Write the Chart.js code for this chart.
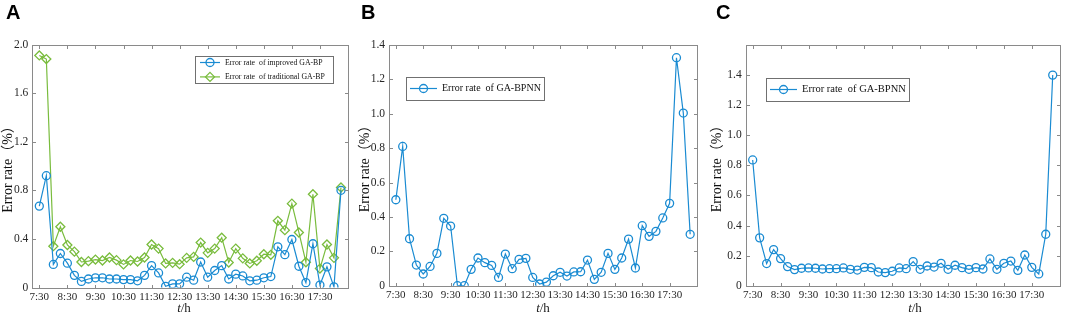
<!DOCTYPE html>
<html>
<head>
<meta charset="utf-8">
<script src="https://cdn.jsdelivr.net/npm/chart.js@4.4.1/dist/chart.umd.min.js"></script>
<style>
  html, body { margin: 0; padding: 0; background: #fff; }
  #wrap { position: relative; width: 1065px; height: 312px; overflow: hidden; }
  .panel { position: absolute; top: 0; }
</style>
</head>
<body>
<div id="wrap">
  <canvas id="chartA" class="panel" style="left:0" width="355" height="312"></canvas>
  <canvas id="chartB" class="panel" style="left:355px" width="353" height="312"></canvas>
  <canvas id="chartC" class="panel" style="left:708px" width="357" height="312"></canvas>
</div>
<script>
// sampling times, every 15 minutes
const times = ['7:30','7:45','8:00','8:15','8:30','8:45','9:00','9:15','9:30','9:45',
  '10:00','10:15','10:30','10:45','11:00','11:15','11:30','11:45','12:00','12:15',
  '12:30','12:45','13:00','13:15','13:30','13:45','14:00','14:15','14:30','14:45',
  '15:00','15:15','15:30','15:45','16:00','16:15','16:30','16:45','17:00','17:15',
  '17:30','17:45','18:00','18:15'];
const xTickLabels = ['7:30','8:30','9:30','10:30','11:30','12:30','13:30','14:30','15:30','16:30','17:30'];

// A: improved vs traditional GA-BP
const improvedA = [0.67,0.92,0.19,0.28,0.20,0.10,0.05,0.07,0.08,0.08,0.07,0.07,0.065,0.065,0.055,
  0.10,0.18,0.12,0.01,0.03,0.03,0.085,0.06,0.21,0.085,0.14,0.18,0.07,0.11,0.095,0.055,0.06,0.08,
  0.09,0.335,0.27,0.395,0.175,0.04,0.36,0.02,0.17,0.005,0.80];
const traditionalA = [1.91,1.88,0.34,0.50,0.35,0.295,0.21,0.217,0.23,0.222,0.247,0.225,0.19,0.222,
  0.214,0.247,0.354,0.32,0.198,0.203,0.192,0.244,0.252,0.37,0.285,0.32,0.41,0.206,0.32,0.24,0.198,
  0.22,0.274,0.269,0.549,0.472,0.69,0.453,0.208,0.768,0.156,0.354,0.244,0.823];
// B and C: GA-BPNN
const errB = [0.50,0.81,0.273,0.12,0.068,0.112,0.188,0.392,0.347,0,0,0.095,0.161,0.134,0.118,0.048,
  0.184,0.099,0.153,0.159,0.048,0.01,0.021,0.058,0.078,0.056,0.08,0.081,0.149,0.037,0.078,0.188,
  0.095,0.161,0.271,0.103,0.349,0.287,0.316,0.394,0.479,1.326,1.004,0.299];
const errC = [0.836,0.318,0.147,0.24,0.18,0.127,0.107,0.116,0.118,0.116,0.111,0.113,0.113,0.118,
  0.109,0.104,0.122,0.12,0.091,0.087,0.096,0.118,0.113,0.16,0.109,0.131,0.124,0.149,0.109,0.136,
  0.12,0.109,0.12,0.111,0.178,0.109,0.149,0.164,0.102,0.204,0.122,0.078,0.342,1.40];

const yTicksA = [0, 0.4, 0.8, 1.2, 1.6, 2.0];
const yTicksBC = [0, 0.2, 0.4, 0.6, 0.8, 1.0, 1.2, 1.4];

const BLUE = '#1a8bd2';
const GREEN = '#79bc3d';
const SERIF = '"Liberation Serif", "Noto Sans CJK SC", serif';

function hours(s) {
  const p = s.split(':');
  return +p[0] + p[1] / 60;
}
function points(vals) {
  return vals.map((v, i) => ({ x: hours(times[i]), y: v }));
}

function marker(ctx, style, x, y, r) {
  ctx.beginPath();
  if (style === 'rectRot') {
    ctx.moveTo(x, y - r); ctx.lineTo(x + r, y); ctx.lineTo(x, y + r); ctx.lineTo(x - r, y);
    ctx.closePath();
  } else {
    ctx.arc(x, y, r, 0, Math.PI * 2);
  }
  ctx.stroke();
}

// matlab-ish box, inward ticks, panel letter, x title
const frame = {
  id: 'frame',
  afterDraw(chart, args, o) {
    const { ctx, chartArea: a } = chart;
    const x = chart.scales.x, y = chart.scales.y;
    ctx.save();
    ctx.strokeStyle = '#8a8a8a';
    ctx.lineWidth = 1;
    const l = Math.round(a.left) + 0.5, r = Math.round(a.right) + 0.5;
    const t = Math.round(a.top) + 0.5, b = Math.round(a.bottom) + 0.5;
    ctx.strokeRect(l, t, r - l, b - t);
    ctx.beginPath();
    x.ticks.forEach(tk => {
      const px = Math.round(x.getPixelForValue(tk.value)) + 0.5;
      ctx.moveTo(px, b); ctx.lineTo(px, b - 3.5);
      ctx.moveTo(px, t); ctx.lineTo(px, t + 3.5);
    });
    y.ticks.forEach(tk => {
      const py = Math.round(y.getPixelForValue(tk.value)) + 0.5;
      ctx.moveTo(l, py); ctx.lineTo(l + 3.5, py);
      ctx.moveTo(r, py); ctx.lineTo(r - 3.5, py);
    });
    ctx.stroke();

    // panel letter
    ctx.fillStyle = '#000';
    ctx.font = 'bold 20px "Liberation Sans", Arial, sans-serif';
    ctx.textBaseline = 'top';
    ctx.textAlign = 'left';
    ctx.fillText(o.letter, o.letterX, 3);

    // x title: italic t, upright /h
    ctx.textBaseline = 'alphabetic';
    ctx.font = 'italic 13px ' + SERIF;
    const w1 = ctx.measureText('t').width;
    ctx.font = '13px ' + SERIF;
    const w2 = ctx.measureText('/h').width;
    const x0 = (o.xTitleX != null ? o.xTitleX : (a.left + a.right) / 2) - (w1 + w2) / 2;
    ctx.fillStyle = '#1a1a1a';
    ctx.font = 'italic 13px ' + SERIF;
    ctx.fillText('t', x0, 311.5);
    ctx.font = '13px ' + SERIF;
    ctx.fillText('/h', x0 + w1, 311.5);
    ctx.restore();
  }
};

// legend drawn inside the axes, as in the figure
const boxLegend = {
  id: 'boxLegend',
  afterDatasetsDraw(chart, args, o) {
    const ctx = chart.ctx;
    ctx.save();
    ctx.fillStyle = '#fff';
    ctx.fillRect(o.x, o.y, o.w, o.h);
    ctx.strokeStyle = '#707070';
    ctx.lineWidth = 1;
    ctx.strokeRect(o.x + 0.5, o.y + 0.5, o.w, o.h);
    chart.data.datasets.forEach((ds, i) => {
      const cy = o.y + o.row0 + i * o.rowH;
      ctx.strokeStyle = ds.borderColor;
      ctx.lineWidth = ds.borderWidth;
      ctx.beginPath();
      ctx.moveTo(o.x + o.line0, cy);
      ctx.lineTo(o.x + o.line1, cy);
      ctx.stroke();
      ctx.lineWidth = ds.pointBorderWidth;
      marker(ctx, ds.pointStyle, o.x + (o.line0 + o.line1) / 2, cy, ds.pointRadius);
      ctx.fillStyle = '#111';
      ctx.font = o.fontSize + 'px ' + SERIF;
      ctx.textBaseline = 'middle';
      ctx.fillText(ds.label, o.x + o.text0, cy);
    });
    ctx.restore();
  }
};

function makeDataset(label, vals, color, style, radius) {
  return {
    label: label,
    data: points(vals),
    borderColor: color,
    borderWidth: 1.2,
    pointStyle: style,
    pointRadius: radius,
    pointBorderWidth: 1.3,
    pointBorderColor: color,
    pointBackgroundColor: 'rgba(255,255,255,0)',
    tension: 0
  };
}

function makeChart(id, datasets, p) {
  return new Chart(document.getElementById(id), {
    type: 'line',
    data: { datasets: datasets },
    plugins: [boxLegend, frame],
    options: {
      responsive: false,
      animation: false,
      devicePixelRatio: 1,
      layout: { padding: p.pad },
      plugins: {
        legend: { display: false },
        tooltip: { enabled: false },
        boxLegend: p.legend,
        frame: { letter: p.letter, letterX: p.letterX, xTitleX: p.xTitleX }
      },
      scales: {
        x: {
          type: 'linear',
          min: hours('7:15'),
          max: hours('18:30'),
          grid: { display: false, drawTicks: false },
          border: { display: false },
          afterBuildTicks: s => { s.ticks = xTickLabels.map(v => ({ value: hours(v) })); },
          afterFit: s => { s.height = p.xHeight; },
          ticks: {
            autoSkip: false,
            maxRotation: 0,
            padding: 3,
            color: '#262626',
            font: { family: SERIF, size: 11 },
            callback: (v, i) => xTickLabels[i]
          }
        },
        y: {
          min: 0,
          max: p.yMax,
          grid: { display: false, drawTicks: false },
          border: { display: false },
          afterBuildTicks: s => { s.ticks = p.yTicks.map(v => ({ value: v })); },
          afterFit: s => { s.width = p.yWidth; },
          ticks: {
            padding: 4,
            color: '#262626',
            font: { family: SERIF, size: 11.5 },
            callback: v => (v === 0 ? '0' : v.toFixed(1))
          },
          title: {
            display: true,
            text: 'Error rate（%）',
            color: '#111',
            padding: { top: 0, bottom: 0 },
            font: { family: SERIF, size: 14 }
          }
        }
      }
    }
  });
}

makeChart('chartA', [
  makeDataset('Error rate  of improved GA-BP', improvedA, BLUE, 'circle', 4),
  makeDataset('Error rate  of traditional GA-BP', traditionalA, GREEN, 'rectRot', 4.5)
], {
  pad: { left: 0, right: 7, top: 44.5, bottom: 0 },
  yWidth: 32.3, xHeight: 24.5, yMax: 2.0, yTicks: yTicksA,
  letter: 'A', letterX: 6, xTitleX: 184,
  legend: { x: 195, y: 56, w: 138, h: 27, row0: 6.5, rowH: 14.4, line0: 5, line1: 25, text0: 30, fontSize: 7.8 }
});

makeChart('chartB', [
  makeDataset('Error rate  of GA-BPNN', errB, BLUE, 'circle', 4)
], {
  pad: { left: 1.6, right: 11, top: 45, bottom: 0 },
  yWidth: 32.4, xHeight: 26.3, yMax: 1.4, yTicks: yTicksBC,
  letter: 'B', letterX: 6,
  legend: { x: 51, y: 77, w: 138, h: 23, row0: 11.5, rowH: 0, line0: 4, line1: 31, text0: 36, fontSize: 10 }
});

makeChart('chartC', [
  makeDataset('Error rate  of GA-BPNN', errC, BLUE, 'circle', 4)
], {
  pad: { left: 0.6, right: 3, top: 45, bottom: 0 },
  yWidth: 37.1, xHeight: 26.3, yMax: 1.6, yTicks: yTicksBC,
  letter: 'C', letterX: 8, xTitleX: 207,
  legend: { x: 58, y: 78, w: 143, h: 23, row0: 11.5, rowH: 0, line0: 4, line1: 31, text0: 36, fontSize: 10.5 }
});
</script>
</body>
</html>
